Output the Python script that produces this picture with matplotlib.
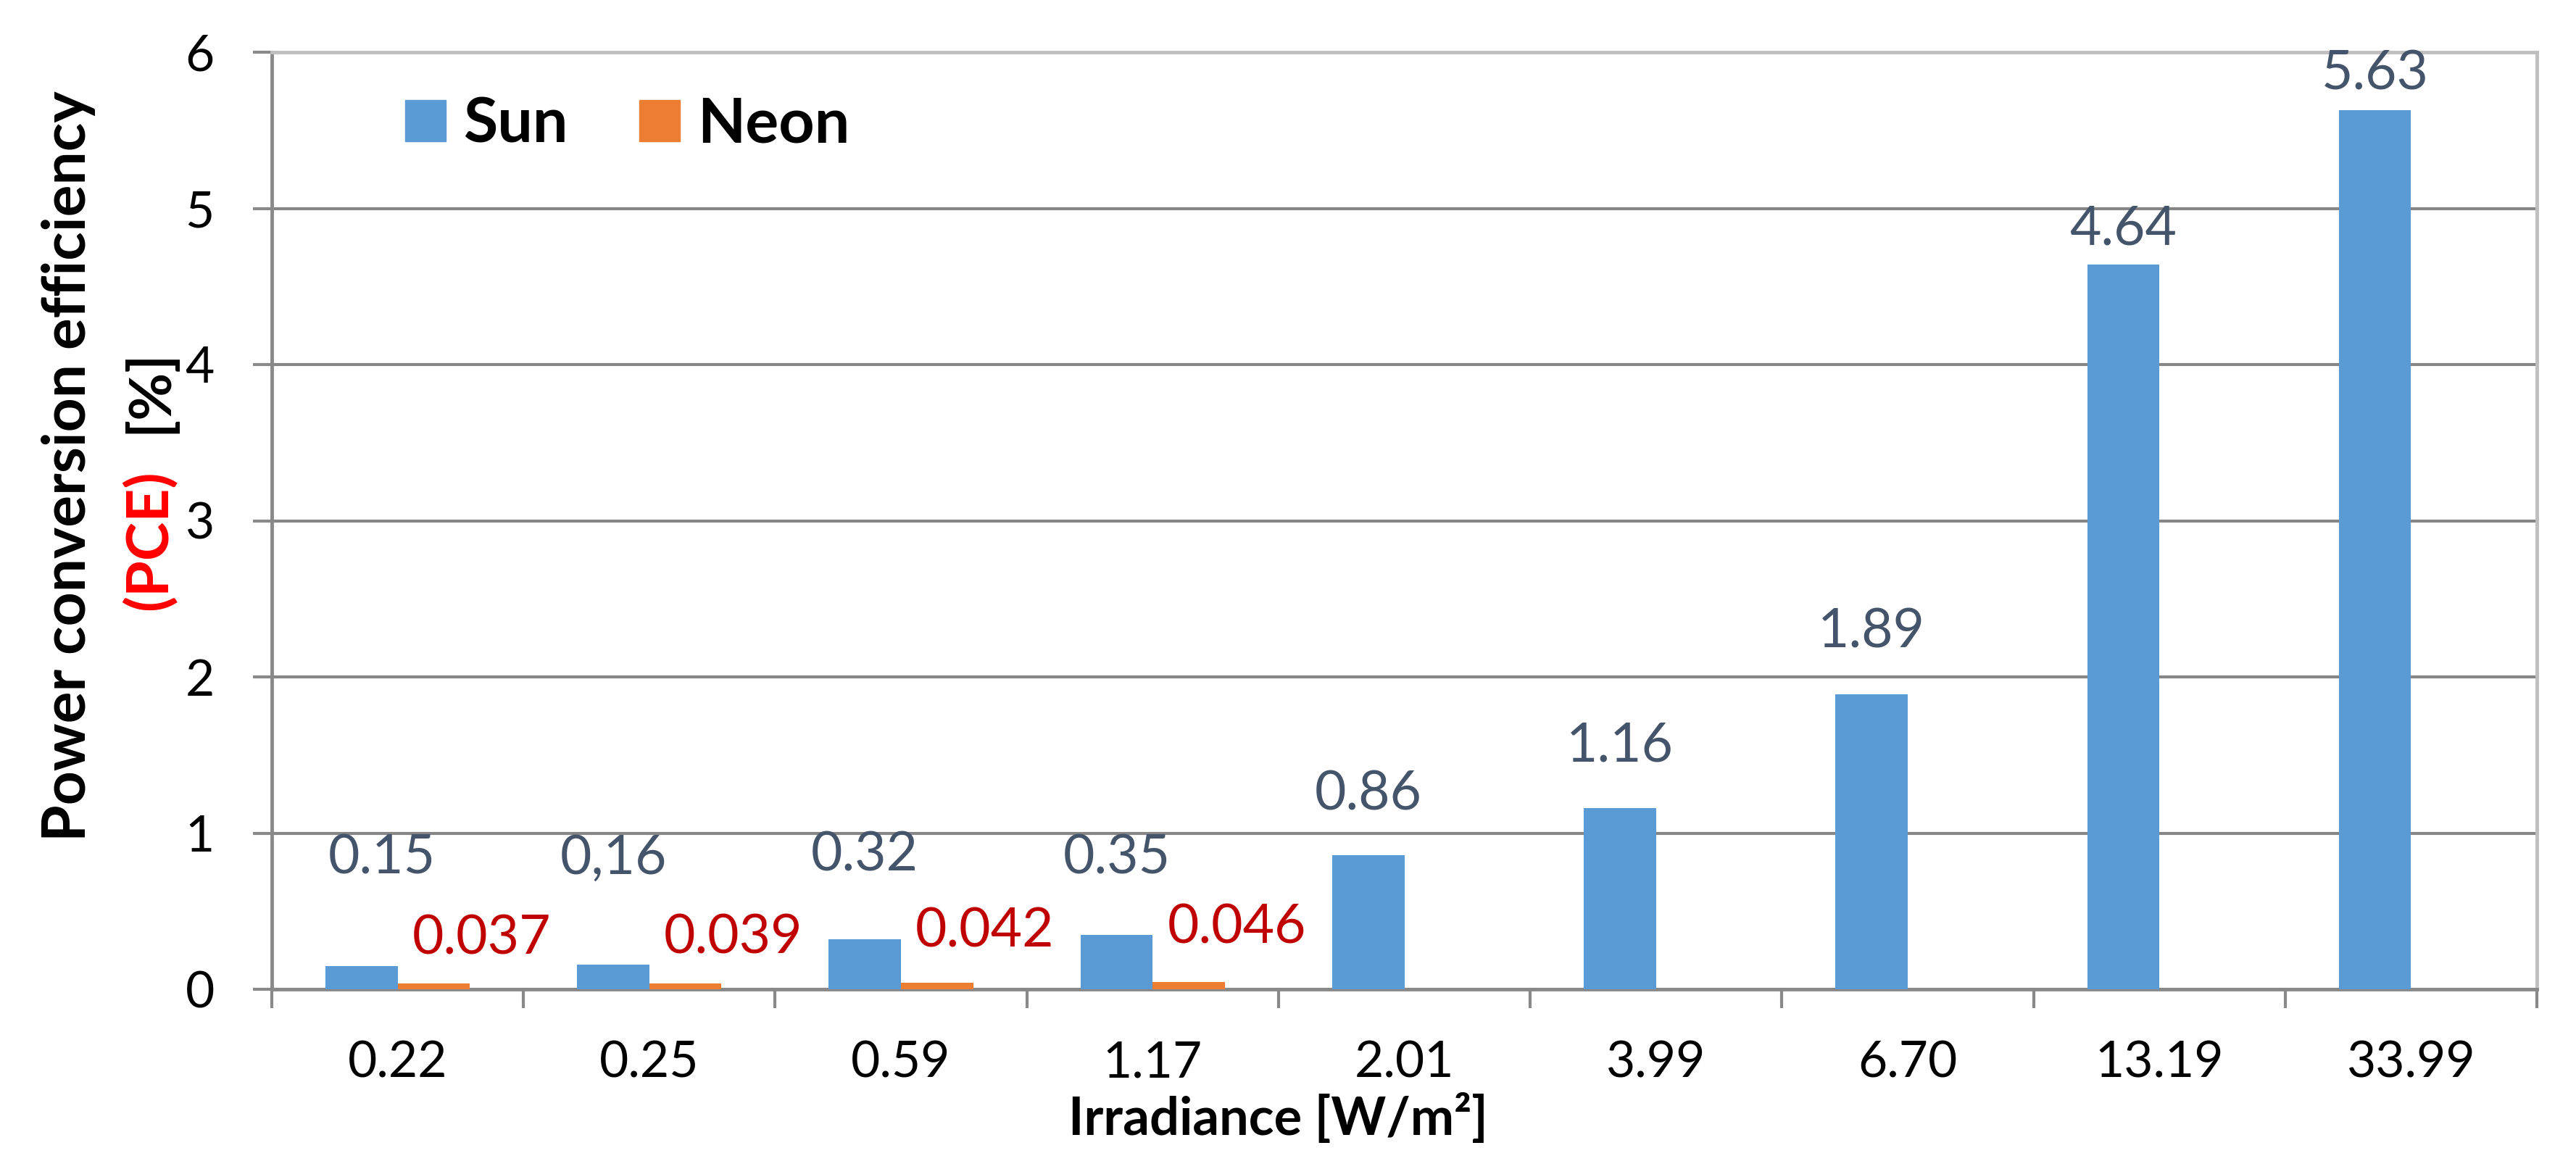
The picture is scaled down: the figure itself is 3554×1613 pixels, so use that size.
import matplotlib.pyplot as plt
import numpy as np
from matplotlib.patches import Patch
from matplotlib.ticker import FixedLocator

# data
irradiance = ['0.22', '0.25', '0.59', '1.17', '2.01', '3.99', '6.70', '13.19', '33.99']
sun = [0.15, 0.16, 0.32, 0.35, 0.86, 1.16, 1.89, 4.64, 5.63]
neon = [0.037, 0.039, 0.042, 0.046, 0, 0, 0, 0, 0]
sun_text = ['0.15', '0,16', '0.32', '0.35', '0.86', '1.16', '1.89', '4.64', '5.63']
neon_text = ['0.037', '0.039', '0.042', '0.046']

# label placement (hand-moved in the original)
sun_dy = [0.69, 0.68, 0.54, 0.49, 0.39, 0.40, 0.40, 0.23, 0.23]
sun_dx = [0.08, 0, 0, 0, 0, 0, 0, 0, 0]
neon_dy = [0.29, 0.29, 0.33, 0.35]

FONT = 'Lato'
W, H = 3554, 1613
fig = plt.figure(figsize=(W / 100, H / 100), dpi=100)
ax = fig.add_axes([375 / W, 1 - 1365 / H, 3125 / W, 1293 / H])

x = np.arange(len(irradiance))
bw = 0.287
ax.bar(x - bw / 2, sun, bw, color='#5B9BD5', zorder=3)
ax.bar(x + bw / 2, neon, bw, color='#ED7D31', zorder=3)

for i, v in enumerate(sun):
    ax.text(x[i] - bw / 2 + sun_dx[i], v + sun_dy[i], sun_text[i], ha='center', va='center',
            fontsize=54, color='#44546A', family=FONT)
for i, t in enumerate(neon_text):
    ax.text(x[i] + bw / 2 + 0.19, neon[i] + neon_dy[i], t, ha='center', va='center',
            fontsize=54, color='#C00000', family=FONT)

ax.set_xlim(-0.5, len(irradiance) - 0.5)
ax.set_ylim(0, 6)
ax.set_yticks(range(7))
ax.set_xticks(x)
ax.set_xticklabels(irradiance)
ax.xaxis.set_minor_locator(FixedLocator(np.arange(-0.5, len(irradiance), 1)))
ax.tick_params(axis='x', which='major', length=0, pad=51, labelsize=50)
ax.tick_params(axis='x', which='minor', length=19, width=3, color='#898989')
ax.tick_params(axis='y', length=19, width=3, color='#898989', pad=38, labelsize=50)
for lab in ax.get_xticklabels() + ax.get_yticklabels():
    lab.set_family(FONT)

ax.grid(axis='y', color='#868686', linewidth=3, zorder=0)
ax.set_axisbelow(True)
for side in ['left', 'bottom']:
    ax.spines[side].set_color('#898989')
    ax.spines[side].set_linewidth(3.5)
for side in ['top', 'right']:
    ax.spines[side].set_color('#BFBFBF')
    ax.spines[side].set_linewidth(3.5)

handles = [Patch(color='#5B9BD5', label='Sun'), Patch(color='#ED7D31', label='Neon')]
ax.legend(handles=handles, loc='upper left', bbox_to_anchor=(0.034, 1.013), ncol=2, frameon=False,
          prop={'family': FONT, 'weight': 'bold', 'size': 62},
          handlelength=0.65, handleheight=0.65, handletextpad=0.28, columnspacing=1.15)

# axis titles
fig.text(1763 / W, 1 - 1566 / H, 'Irradiance [W/m²]', ha='center', va='baseline',
         fontsize=52, fontweight='bold', family=FONT)
fig.text(118 / W, 1 - 643 / H, 'Power conversion efficiency', rotation=90, rotation_mode='anchor',
         ha='center', va='baseline', fontsize=59, fontweight='bold', family=FONT)
fig.text(230 / W, 1 - 745 / H, '(PCE)', rotation=90, rotation_mode='anchor',
         ha='center', va='baseline', fontsize=58, fontweight='bold', family=FONT, color='#FF0000')
fig.text(230 / W, 1 - 540 / H, '[%]', rotation=90, rotation_mode='anchor',
         ha='center', va='baseline', fontsize=58, fontweight='bold', family=FONT)

fig.savefig('out.png', dpi=100)
